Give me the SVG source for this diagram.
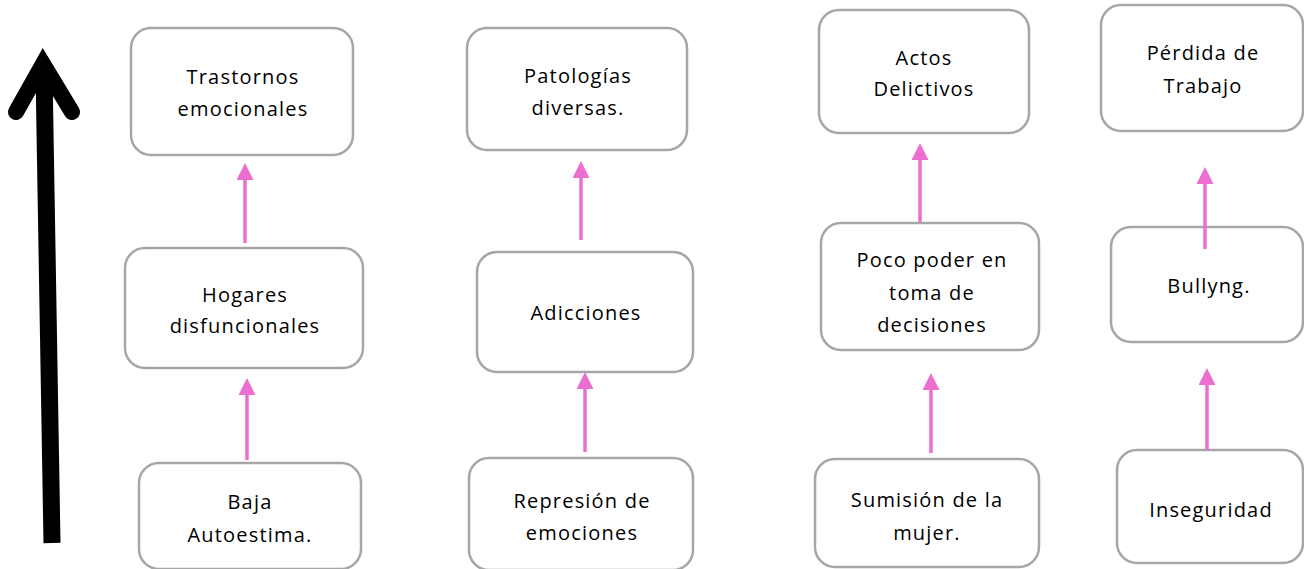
<svg xmlns="http://www.w3.org/2000/svg" width="1304" height="569" viewBox="0 0 1304 569">
<defs>
<style>
.box{fill:#ffffff;stroke:#a6a6a6;stroke-width:2.5}
.t{font-family:"Open Sans","Liberation Sans",sans-serif;font-size:20px;fill:#000;text-anchor:middle;letter-spacing:1.2px}
.c{stroke:#ec6ecf;stroke-width:3.5;fill:none;marker-end:url(#ph)}
</style>
<marker id="ph" markerUnits="userSpaceOnUse" markerWidth="17" markerHeight="17" viewBox="0 0 17 17" refX="1" refY="8.5" orient="auto">
<path d="M0,0 L17,8.5 L0,17 Z" fill="#ec6ecf"/>
</marker>
</defs>
<rect width="1304" height="569" fill="#ffffff"/>
<g id="big-arrow">
<line x1="44" y1="72" x2="52" y2="543" stroke="#000" stroke-width="17"/>
<polyline points="16,112 43,64 72,112" fill="none" stroke="#000" stroke-width="16" stroke-linecap="round" stroke-linejoin="miter" stroke-miterlimit="10"/>
</g>
<g id="n-trastornos"><rect class="box" x="131" y="28" width="222" height="127" rx="20"/><text class="t" x="243" y="84">Trastornos</text><text class="t" x="243" y="116">emocionales</text></g>
<g id="n-hogares"><rect class="box" x="125" y="248" width="238" height="120" rx="20"/><text class="t" x="245" y="302">Hogares</text><text class="t" x="245" y="333">disfuncionales</text></g>
<g id="n-baja"><rect class="box" x="139" y="463" width="222" height="106" rx="20"/><text class="t" x="250" y="509">Baja</text><text class="t" x="250" y="542">Autoestima.</text></g>
<g id="n-patologias"><rect class="box" x="467" y="28" width="220" height="122" rx="20"/><text class="t" x="578" y="83">Patologías</text><text class="t" x="578" y="115">diversas.</text></g>
<g id="n-adicciones"><rect class="box" x="477" y="252" width="216" height="120" rx="20"/><text class="t" x="586" y="320">Adicciones</text></g>
<g id="n-represion"><rect class="box" x="469" y="458" width="224" height="112" rx="20"/><text class="t" x="582" y="508">Represión de</text><text class="t" x="582" y="540">emociones</text></g>
<g id="n-actos"><rect class="box" x="819" y="10" width="210" height="123" rx="20"/><text class="t" x="924" y="65">Actos</text><text class="t" x="924" y="96">Delictivos</text></g>
<g id="n-poco"><rect class="box" x="821" y="223" width="218" height="127" rx="20"/><text class="t" x="932" y="267">Poco poder en</text><text class="t" x="932" y="300">toma de</text><text class="t" x="932" y="332">decisiones</text></g>
<g id="n-sumision"><rect class="box" x="815" y="459" width="224" height="108" rx="20"/><text class="t" x="927" y="507">Sumisión de la</text><text class="t" x="927" y="540">mujer.</text></g>
<g id="n-perdida"><rect class="box" x="1101" y="5" width="202" height="126" rx="20"/><text class="t" x="1203" y="60">Pérdida de</text><text class="t" x="1203" y="93">Trabajo</text></g>
<g id="n-bullyng"><rect class="box" x="1111" y="227" width="192" height="115" rx="20"/><text class="t" x="1209" y="293">Bullyng.</text></g>
<g id="n-inseguridad"><rect class="box" x="1117" y="450" width="186" height="113" rx="20"/><text class="t" x="1211" y="517">Inseguridad</text></g>
<g id="connectors">
<line class="c" x1="245" y1="243" x2="245" y2="179"/>
<line class="c" x1="247" y1="460" x2="247" y2="394"/>
<line class="c" x1="581" y1="240" x2="581" y2="177"/>
<line class="c" x1="585" y1="452" x2="585" y2="388"/>
<line class="c" x1="920" y1="222" x2="920" y2="159"/>
<line class="c" x1="931" y1="453" x2="931" y2="389"/>
<line class="c" x1="1205" y1="249" x2="1205" y2="183"/>
<line class="c" x1="1207" y1="450" x2="1207" y2="384"/>
</g>
</svg>
